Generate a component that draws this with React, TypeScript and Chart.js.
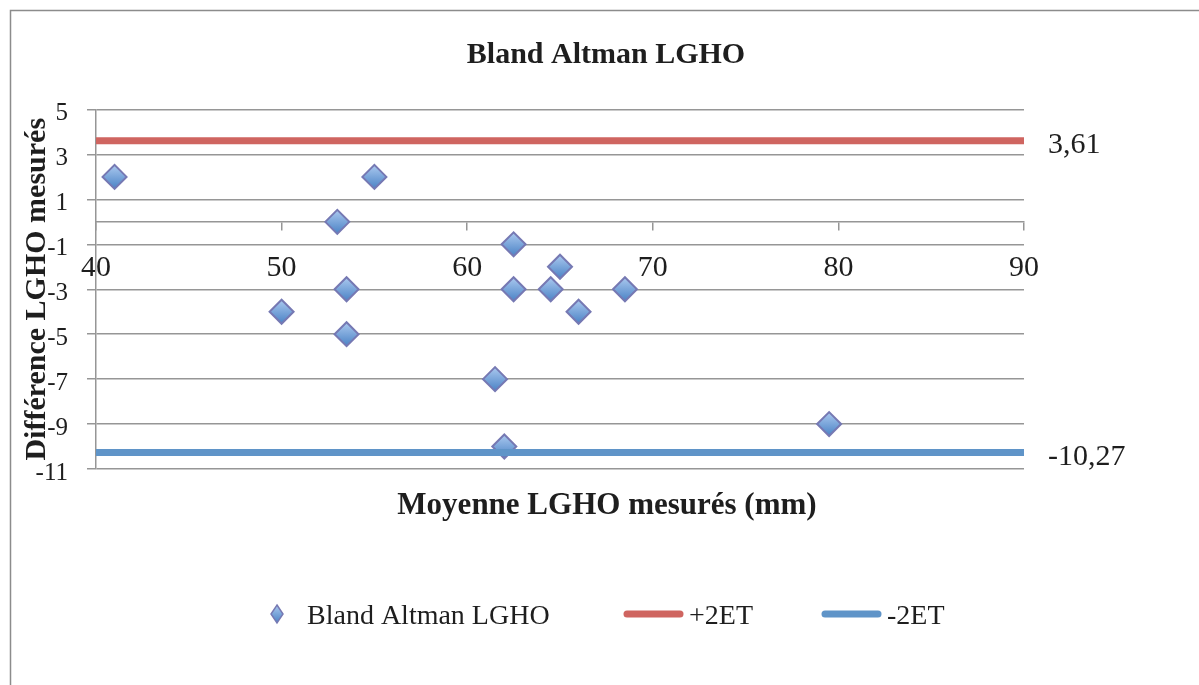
import React, { useEffect, useRef } from 'react';
import { Chart, registerables } from 'chart.js';

Chart.register(...registerables);

const chartTitle = 'Bland Altman LGHO';
const xAxisTitle = 'Moyenne LGHO mesurés (mm)';
const yAxisTitle = 'Différence LGHO mesurés';
const seriesNames = ['Bland Altman LGHO', '+2ET', '-2ET'];

const meanValues = [41, 55, 53, 53.5, 50, 53.5, 62.5, 65, 62.5, 64.5, 68.5, 66, 61.5, 62, 79.5];
const diffValues = [2, 2, 0, -3, -4, -5, -1, -2, -3, -3, -3, -4, -7, -10, -9];

const upperLimit = 3.61;
const lowerLimit = -10.27;
const limitLabels = ['3,61', '-10,27'];
const limitXRange = [40, 90];

const xTicks = [40, 50, 60, 70, 80, 90];
const yTicks = [5, 3, 1, -1, -3, -5, -7, -9, -11];

const FONT = "'Liberation Serif', 'Times New Roman', serif";
const TEXT = '#1e1e1e';
const GRID = '#969696';
const RED = '#cf6560';
const BLUE = '#5f94c8';
const MARK_BORDER = '#7679b3';

function diamondFill(c: any) {
  const chart = c.chart;
  if (c.type !== 'data' || !chart.chartArea || !chart.scales.y) return '#7ea7dc';
  const y = chart.scales.y.getPixelForValue(c.raw.y);
  const g = chart.ctx.createLinearGradient(0, y - 12, 0, y + 12);
  g.addColorStop(0, '#abc9ef');
  g.addColorStop(1, '#4a82c5');
  return g;
}

const decorPlugin = {
  id: 'decor',
  beforeDraw(chart: any) {
    const ctx = chart.ctx;
    ctx.save();
    ctx.fillStyle = '#ffffff';
    ctx.fillRect(0, 0, chart.width, chart.height);
    ctx.strokeStyle = '#8c8c8c';
    ctx.lineWidth = 1.5;
    ctx.beginPath();
    ctx.moveTo(10.5, chart.height);
    ctx.lineTo(10.5, 10.5);
    ctx.lineTo(chart.width, 10.5);
    ctx.stroke();
    ctx.restore();
  },
  afterDraw(chart: any) {
    const ctx = chart.ctx;
    const ys = chart.scales.y;
    const xs = chart.scales.x;
    ctx.save();
    ctx.fillStyle = TEXT;
    ctx.textBaseline = 'alphabetic';

    // Chart title
    ctx.font = `bold 30px ${FONT}`;
    ctx.textAlign = 'center';
    ctx.fillText(chartTitle, 606, 63);

    // X axis title
    ctx.font = `bold 31px ${FONT}`;
    ctx.fillText(xAxisTitle, 607, 514);

    // Y axis title
    ctx.save();
    ctx.translate(45, (ys.top + ys.bottom) / 2);
    ctx.rotate(-Math.PI / 2);
    ctx.font = `bold 30px ${FONT}`;
    ctx.textAlign = 'center';
    ctx.fillText(yAxisTitle, 0, 0);
    ctx.restore();

    // Limit labels
    ctx.font = `30px ${FONT}`;
    ctx.textAlign = 'left';
    const lx = xs.getPixelForValue(limitXRange[1]) + 24;
    ctx.fillText(limitLabels[0], lx, ys.getPixelForValue(upperLimit) + 12.5);
    ctx.fillText(limitLabels[1], lx, ys.getPixelForValue(lowerLimit) + 12.5);

    // Legend
    const ly = 614;
    ctx.beginPath();
    ctx.moveTo(277, ly - 9);
    ctx.lineTo(283, ly);
    ctx.lineTo(277, ly + 9);
    ctx.lineTo(271, ly);
    ctx.closePath();
    const g = ctx.createLinearGradient(0, ly - 9, 0, ly + 9);
    g.addColorStop(0, '#abc9ef');
    g.addColorStop(1, '#4a82c5');
    ctx.fillStyle = g;
    ctx.fill();
    ctx.strokeStyle = MARK_BORDER;
    ctx.lineWidth = 1.5;
    ctx.stroke();

    ctx.lineCap = 'round';
    ctx.lineWidth = 7;
    ctx.strokeStyle = RED;
    ctx.beginPath();
    ctx.moveTo(627, ly);
    ctx.lineTo(680, ly);
    ctx.stroke();
    ctx.strokeStyle = BLUE;
    ctx.beginPath();
    ctx.moveTo(825, ly);
    ctx.lineTo(878, ly);
    ctx.stroke();

    ctx.fillStyle = TEXT;
    ctx.font = `28px ${FONT}`;
    ctx.textAlign = 'left';
    ctx.fillText(seriesNames[0], 307, ly + 10);
    ctx.fillText(seriesNames[1], 689, ly + 10);
    ctx.fillText(seriesNames[2], 887, ly + 10);
    ctx.restore();
  },
};

export default function App() {
  const canvasRef = useRef<HTMLCanvasElement | null>(null);

  useEffect(() => {
    document.body.style.margin = '0';
    const canvas = canvasRef.current;
    if (!canvas) return;

    const points = meanValues.map((x, i) => ({ x, y: diffValues[i] }));

    const chart = new Chart(canvas, {
      type: 'scatter',
      data: {
        datasets: [
          {
            label: seriesNames[1],
            data: limitXRange.map((x) => ({ x, y: upperLimit })),
            showLine: true,
            borderColor: RED,
            backgroundColor: RED,
            borderWidth: 7,
            pointRadius: 0,
            order: 1,
          },
          {
            label: seriesNames[2],
            data: limitXRange.map((x) => ({ x, y: lowerLimit })),
            showLine: true,
            borderColor: BLUE,
            backgroundColor: BLUE,
            borderWidth: 7,
            pointRadius: 0,
            order: 2,
          },
          {
            label: seriesNames[0],
            data: points,
            pointStyle: 'rectRot',
            pointRadius: 12,
            pointHoverRadius: 12,
            pointBorderWidth: 2,
            pointBorderColor: MARK_BORDER,
            pointBackgroundColor: diamondFill as any,
            borderColor: MARK_BORDER,
            order: 3,
          },
        ],
      } as any,
      options: {
        responsive: false,
        animation: false,
        events: [],
        layout: { padding: { left: 0, top: 109.5, right: 175, bottom: 216 } },
        plugins: {
          legend: { display: false },
          title: { display: false },
          tooltip: { enabled: false },
        },
        scales: {
          x: {
            type: 'linear',
            position: { y: 0 } as any,
            min: xTicks[0],
            max: xTicks[xTicks.length - 1],
            afterBuildTicks: (s: any) => {
              s.ticks = xTicks.map((v) => ({ value: v }));
            },
            grid: {
              drawOnChartArea: false,
              drawTicks: true,
              tickLength: 8,
              color: GRID,
              lineWidth: 1.5,
            },
            border: { display: true, color: GRID, width: 1.5 },
            ticks: {
              font: { family: FONT, size: 30 },
              color: TEXT,
              padding: 20,
              maxRotation: 0,
              autoSkip: false,
              callback: (v: any) => String(v),
            },
          },
          y: {
            type: 'linear',
            position: 'left',
            min: yTicks[yTicks.length - 1],
            max: yTicks[0],
            afterBuildTicks: (s: any) => {
              s.ticks = yTicks.map((v) => ({ value: v }));
            },
            afterFit: (s: any) => {
              s.width = 96;
            },
            grid: {
              color: GRID,
              lineWidth: 1.5,
              drawTicks: true,
              tickLength: 9,
            },
            border: { display: true, color: GRID, width: 1.5 },
            ticks: {
              font: { family: FONT, size: 25 },
              color: TEXT,
              padding: 19,
              labelOffset: 4,
              autoSkip: false,
              callback: (v: any) => String(v),
            },
          },
        } as any,
      },
      plugins: [decorPlugin],
    });

    return () => {
      chart.destroy();
    };
  }, []);

  return (
    <div style={{ width: 1199, height: 685, background: '#fff' }}>
      <canvas ref={canvasRef} width={1199} height={685} style={{ display: 'block' }} />
    </div>
  );
}
